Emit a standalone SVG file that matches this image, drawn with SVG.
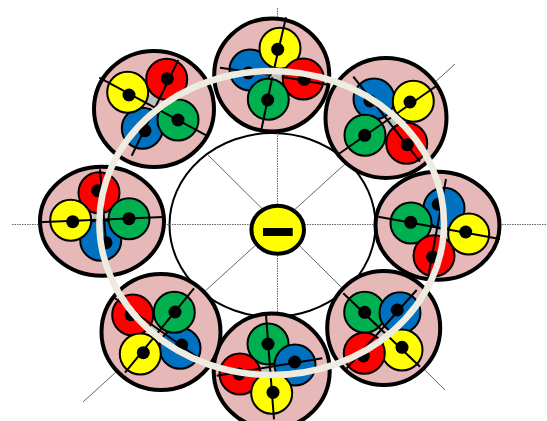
<svg xmlns="http://www.w3.org/2000/svg" width="547" height="421" viewBox="0 0 547 421">
<style>
.o{fill:#e6b8b7;stroke:#000;stroke-width:4}
.y,.b,.r,.g{stroke:#000;stroke-width:2}
.y{fill:#ff0}.b{fill:#0070c0}.r{fill:#f00}.g{fill:#00b050}
.d{fill:#000}
.c{fill:#bfbfbf}
.w{stroke:#000;stroke-width:2;fill:none}
.dot{stroke:#666;stroke-width:1;stroke-dasharray:1.5 1;fill:none}
.dg{stroke:#555;stroke-width:.9;fill:none}
</style>
<g id="hub-ring"><ellipse cx="272.5" cy="225" rx="103" ry="92" fill="#fff" stroke="#000" stroke-width="2"/></g>
<g id="connectors">
<path class="dot" d="M277.5 8V421M12 224.500H547"/>
<path class="dg" d="M455 64L83 402M208 155L445 390"/>
</g>
<g id="bundle-top">
<ellipse class="o" cx="271.700" cy="75" rx="57.500" ry="56.500"/>
<path class="c" d="M270 68L281 70L282 82L272 83Z"/>
<circle class="b" cx="250" cy="70" r="20.500"/><circle class="d" cx="248.300" cy="73" r="6.500"/>
<circle class="y" cx="280" cy="48.300" r="20.500"/><circle class="d" cx="277.700" cy="49.300" r="6.500"/>
<circle class="r" cx="303.300" cy="79" r="20.500"/><circle class="d" cx="304.300" cy="79.300" r="6.500"/>
<circle class="g" cx="268.300" cy="99.300" r="20.500"/><circle class="d" cx="267.700" cy="100" r="6.500"/>
<path class="w" d="M286 17.300L274.300 68M272.300 77.300L261.300 130M220 67.700L271.700 75M281.700 76.700L329 85"/>
</g>
<g id="bundle-top-left">
<ellipse class="o" cx="154" cy="109" rx="60" ry="58"/>
<path class="c" d="M150 95L160 100L156 109L146 104Z"/>
<circle class="b" cx="142.300" cy="128.300" r="20.500"/><circle class="d" cx="145" cy="130.700" r="6.500"/>
<circle class="y" cx="127.700" cy="92.300" r="20.500"/><circle class="d" cx="129" cy="95" r="6.500"/>
<circle class="r" cx="166.700" cy="79.300" r="20.500"/><circle class="d" cx="167.300" cy="78.700" r="6.500"/>
<circle class="g" cx="178" cy="120" r="20.500"/><circle class="d" cx="178" cy="120" r="6.500"/>
<path class="w" d="M99.300 77.700L206.700 135.700M178.300 60L131.700 155.700"/>
</g>
<g id="bundle-top-right">
<ellipse class="o" cx="386" cy="118" rx="60.500" ry="60"/>
<path class="c" d="M384 116L394 119L396 128L389 132Z"/>
<circle class="b" cx="374" cy="99" r="20.500"/><circle class="d" cx="370" cy="101" r="6.500"/>
<circle class="y" cx="413.300" cy="101.300" r="20.500"/><circle class="d" cx="410" cy="102" r="6.500"/>
<circle class="g" cx="365" cy="135.300" r="20.500"/><circle class="d" cx="364.700" cy="135.300" r="6.500"/>
<circle class="r" cx="406.700" cy="143.300" r="20.500"/><circle class="d" cx="407.300" cy="144.700" r="6.500"/>
<path class="w" d="M436.700 85.700L338.300 154.300M353.300 76.700L420 161.700"/>
</g>
<g id="bundle-right">
<ellipse class="o" cx="437.500" cy="225.700" rx="62" ry="54"/>
<path class="c" d="M431 225L441 224L443 235L433 236Z"/>
<circle class="b" cx="444" cy="208.300" r="20.500"/><circle class="d" cx="438.300" cy="204.300" r="6.500"/>
<circle class="y" cx="468.700" cy="234" r="20.500"/><circle class="d" cx="465.700" cy="232" r="6.500"/>
<circle class="g" cx="411" cy="223" r="20.500"/><circle class="d" cx="410.700" cy="222.300" r="6.500"/>
<circle class="r" cx="434" cy="255.700" r="20.500"/><circle class="d" cx="432.700" cy="257" r="6.500"/>
<path class="w" d="M378.300 216.700L500 239M446 179L428.300 276.700"/>
</g>
<g id="bundle-bottom-right">
<ellipse class="o" cx="383.700" cy="328" rx="56.500" ry="57"/>
<path class="c" d="M380 325L386 331L381 338L374 332Z"/>
<circle class="g" cx="364.700" cy="312.300" r="20.500"/><circle class="d" cx="364.700" cy="312.300" r="6.500"/>
<circle class="b" cx="400" cy="312.700" r="20.500"/><circle class="d" cx="397.300" cy="310" r="6.500"/>
<circle class="y" cx="402" cy="350" r="20.500"/><circle class="d" cx="402" cy="347.300" r="6.500"/>
<circle class="r" cx="364.300" cy="353.300" r="20.500"/><circle class="d" cx="363.300" cy="356" r="6.500"/>
<path class="w" d="M343.300 293.300L420 366.700M416.700 290L346.700 368.300"/>
</g>
<g id="bundle-bottom">
<ellipse class="o" cx="271.700" cy="371" rx="58" ry="57.500"/>
<path class="c" d="M261 364L272 363L273 374L262 375Z"/>
<circle class="g" cx="268" cy="344" r="20.500"/><circle class="d" cx="268" cy="344" r="6.500"/>
<circle class="b" cx="295" cy="365" r="20.500"/><circle class="d" cx="294.700" cy="362" r="6.500"/>
<circle class="r" cx="240" cy="374" r="20.500"/><circle class="d" cx="239" cy="374" r="6.500"/>
<circle class="y" cx="271.700" cy="393.300" r="20.500"/><circle class="d" cx="273" cy="392.300" r="6.500"/>
<path class="w" d="M266 315L274 419.300M216.700 375.700L322.300 358.300"/>
</g>
<g id="bundle-bottom-left">
<ellipse class="o" cx="161" cy="332" rx="59.500" ry="58"/>
<path class="c" d="M155 322L163 328L157 336L149 329Z"/>
<circle class="b" cx="180" cy="348.300" r="20.500"/><circle class="d" cx="181.700" cy="345" r="6.500"/>
<circle class="r" cx="132.700" cy="315" r="20.500"/><circle class="d" cx="131" cy="314.700" r="6.500"/>
<circle class="g" cx="174.300" cy="312.300" r="20.500"/><circle class="d" cx="175" cy="312" r="6.500"/>
<circle class="y" cx="140.300" cy="354" r="20.500"/><circle class="d" cx="143.300" cy="352.700" r="6.500"/>
<path class="w" d="M194 288.300L125 372.700M115 298.300L196.700 356.700"/>
</g>
<g id="bundle-left">
<ellipse class="o" cx="102" cy="221.300" rx="62" ry="54.500"/>
<path class="c" d="M92 212L108 212L106 223L94 223Z"/>
<circle class="b" cx="100.700" cy="240.300" r="20.500"/><circle class="d" cx="106" cy="242.700" r="6.500"/>
<circle class="r" cx="99" cy="192.700" r="20.500"/><circle class="d" cx="97.700" cy="190.700" r="6.500"/>
<circle class="y" cx="70.700" cy="220.300" r="20.500"/><circle class="d" cx="72.700" cy="221.700" r="6.500"/>
<circle class="g" cx="129" cy="218.700" r="20.500"/><circle class="d" cx="129" cy="218.700" r="6.500"/>
<path class="w" d="M38.300 222.300L163.300 217M100 169.300L106 242.700"/>
</g>
<g id="ring"><ellipse cx="271.700" cy="223" rx="172.300" ry="152" fill="none" stroke="#eeece1" stroke-width="6.500"/></g>
<g id="center">
<ellipse cx="277.700" cy="229.800" rx="26.300" ry="24" fill="#ff0" stroke="#000" stroke-width="4"/>
<rect x="263" y="228" width="29.700" height="8" fill="#000"/>
</g>
</svg>
